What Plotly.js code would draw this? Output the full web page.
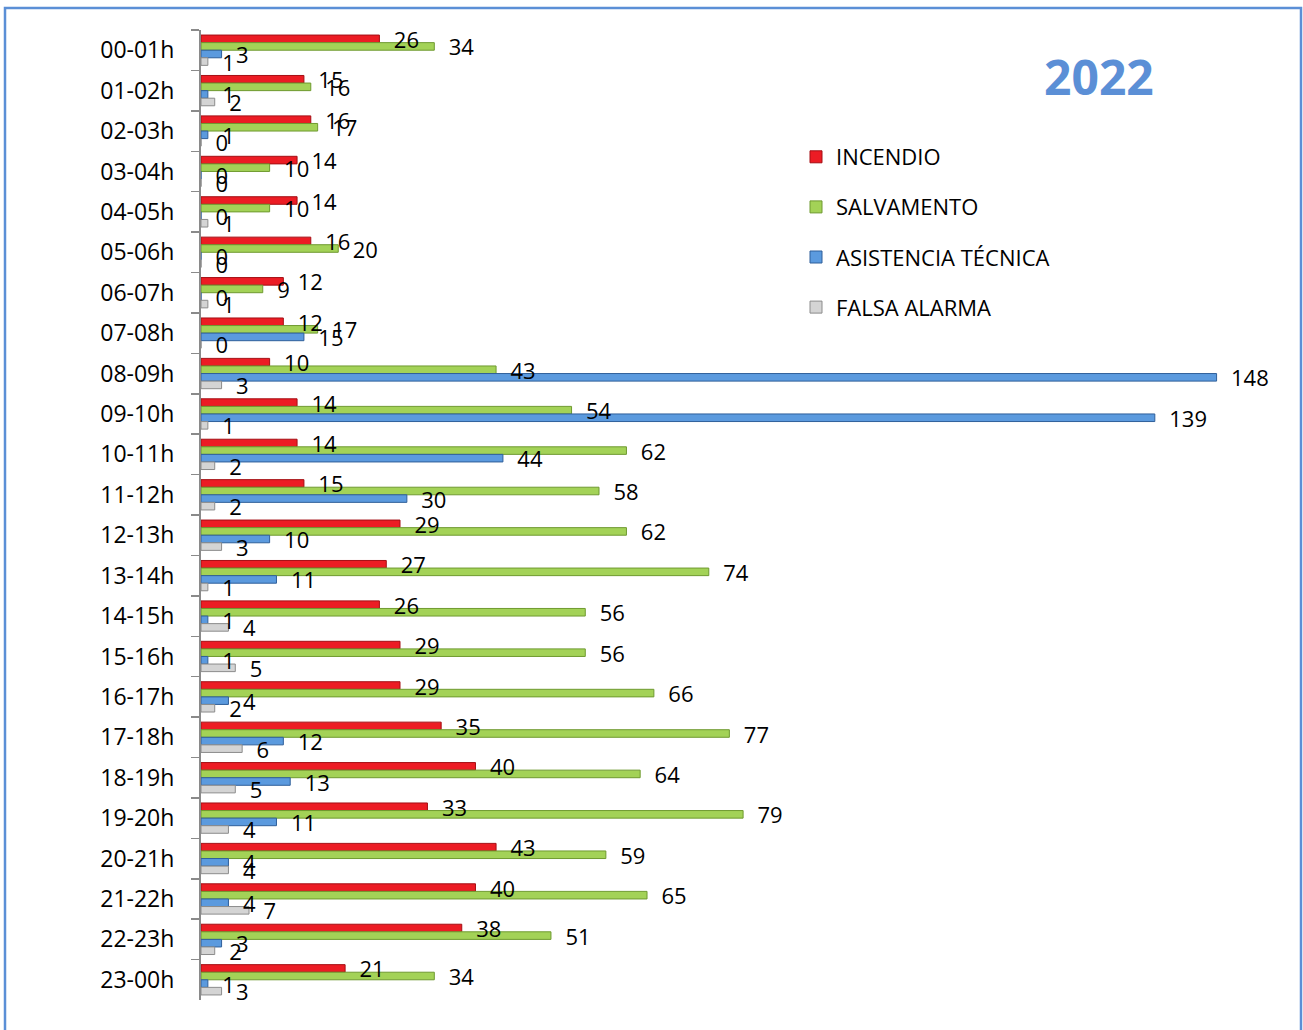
<!DOCTYPE html>
<html>
<head>
<meta charset="utf-8">
<script src="https://cdn.plot.ly/plotly-3.0.1.min.js"></script>
<style>html,body{margin:0;padding:0;background:#fff;}#chart{width:1303px;height:1030px;}</style>
</head>
<body>
<div id="chart"></div>
<script>
const categories = ["00-01h","01-02h","02-03h","03-04h","04-05h","05-06h","06-07h","07-08h","08-09h","09-10h","10-11h","11-12h","12-13h","13-14h","14-15h","15-16h","16-17h","17-18h","18-19h","19-20h","20-21h","21-22h","22-23h","23-00h"];
const incendio    = [26,15,16,14,14,16,12,12,10,14,14,15,29,27,26,29,29,35,40,33,43,40,38,21];
const salvamento  = [34,16,17,10,10,20, 9,17,43,54,62,58,62,74,56,56,66,77,64,79,59,65,51,34];
const asistencia  = [ 3, 1, 1, 0, 0, 0, 0,15,148,139,44,30,10,11, 1, 1, 4,12,13,11, 4, 4, 3, 1];
const falsaAlarma = [ 1, 2, 0, 0, 1, 0, 1, 0, 3, 1, 2, 2, 3, 1, 4, 5, 2, 6, 5, 4, 4, 7, 2, 3];
const seriesNames = ["INCENDIO","SALVAMENTO","ASISTENCIA TÉCNICA","FALSA ALARMA"];
const yearLabel = "2022";

const fills = ["#ec1c24","#a3d257","#5b9ade","#d4d4d4"];
const edges = ["#a50f14","#6f9a30","#2f5f9a","#8c8c8c"];
const values = [incendio, salvamento, asistencia, falsaAlarma];

const FONT = "Open Sans, Liberation Sans, sans-serif";

// visible bars (no text)
const barTraces = values.map((v, i) => ({
  type: "bar",
  orientation: "h",
  name: seriesNames[i],
  legendgroup: "g" + i,
  offsetgroup: "s" + i,
  y: categories,
  x: v,
  marker: {color: fills[i], line: {color: edges[i], width: 1}},
  hoverinfo: "x+y+name"
}));

// transparent twins carrying the value labels, drawn above all bars
const labelTraces = values.map((v, i) => ({
  type: "bar",
  orientation: "h",
  name: seriesNames[i],
  legendgroup: "g" + i,
  offsetgroup: "s" + i,
  showlegend: false,
  y: categories,
  x: v,
  texttemplate: "\u00a0\u00a0%{x}",
  textposition: "outside",
  constraintext: "none",
  cliponaxis: false,
  textfont: {family: FONT, size: 22, color: "#000"},
  marker: {color: "rgba(0,0,0,0)", line: {width: 0}},
  hoverinfo: "skip"
}));

const L = 201, R = 13, T = 30, B = 30;
const W = 1303 - L - R, H = 1030 - T - B;
const px = x => (x - L) / W;
const py = y => 1 - (y - T) / H;

const layout = {
  width: 1303, height: 1030,
  margin: {l: L, r: R, t: T, b: B, pad: 0},
  paper_bgcolor: "#fff", plot_bgcolor: "rgba(0,0,0,0)",
  font: {family: FONT, color: "#000"},
  barmode: "group",
  bargap: 0.25,
  bargroupgap: 0,
  showlegend: true,
  legend: {
    x: px(796), y: py(136), xanchor: "left", yanchor: "top",
    traceorder: "grouped", tracegroupgap: 18.5,
    font: {family: FONT, size: 22, color: "#000"},
    bgcolor: "rgba(0,0,0,0)"
  },
  xaxis: {range: [0, 158.7], visible: false, fixedrange: true},
  yaxis: {
    type: "category", autorange: "reversed",
    tickson: "boundaries", ticks: "outside", ticklen: 8, tickwidth: 1.5, tickcolor: "#8a8a8a",
    showline: true, linecolor: "#8a8a8a", linewidth: 2,
    showgrid: false, zeroline: false,
    tickfont: {family: FONT, size: 23, color: "#000"},
    ticklabelstandoff: 20
  },
  annotations: [{
    text: "<b>" + yearLabel + "</b>", xref: "paper", yref: "paper",
    x: px(1099), y: py(76), xanchor: "center", yanchor: "middle", showarrow: false,
    font: {family: FONT, size: 48, color: "#5b8fd6"}
  }],
  shapes: [{
    type: "rect", xref: "paper", yref: "paper",
    x0: px(5), x1: px(1301), y0: py(1045), y1: py(8),
    line: {color: "#5b8fd6", width: 2.5}, fillcolor: "rgba(0,0,0,0)", layer: "below"
  }]
};

Plotly.newPlot("chart", barTraces.concat(labelTraces), layout, {displayModeBar: false, staticPlot: true});
</script>
</body>
</html>
